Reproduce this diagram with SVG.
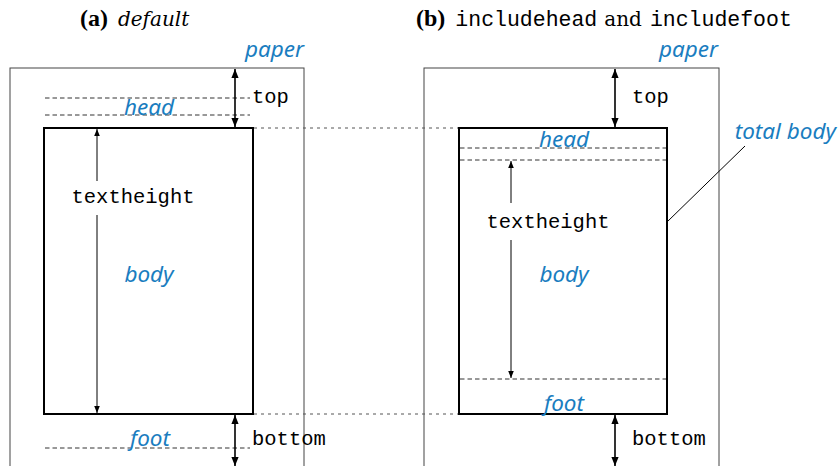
<svg xmlns="http://www.w3.org/2000/svg" width="839" height="466" viewBox="0 0 839 466">
<style>
.paper{fill:none;stroke:#444;stroke-width:1}
.body{fill:none;stroke:#000;stroke-width:2}
.dash{stroke:#333;stroke-width:1;stroke-dasharray:4.5 3;fill:none}
.dot{stroke:#555;stroke-width:1;stroke-dasharray:3 4;fill:none}
.arr{stroke:#000;stroke-width:1.6;fill:none}
.arr1{stroke:#000;stroke-width:1;fill:none}
.lbl{font-family:"Noto Sans","DejaVu Sans",sans-serif;font-style:italic;font-size:22.5px;fill:#1a7dc0}
.mono{font-family:"Liberation Mono","Courier New",monospace;font-size:20.5px;fill:#000}
.ser{font-family:"Liberation Serif","Times New Roman",serif;font-size:24px;fill:#000}
.tser{font-family:"DejaVu Serif",serif}
.tmono{font-family:"Liberation Mono","Courier New",monospace;font-size:21.5px}
</style>
<defs>
<marker id="ah" viewBox="0 0 10 10" refX="10" refY="5" markerWidth="7" markerHeight="7" markerUnits="userSpaceOnUse" orient="auto-start-reverse">
<path d="M0,1 L10,5 L0,9 z" fill="#000"/>
</marker>
<marker id="ah2" viewBox="0 0 10 10" refX="10" refY="5" markerWidth="9" markerHeight="9" markerUnits="userSpaceOnUse" orient="auto-start-reverse">
<path d="M0,1 L10,5 L0,9 z" fill="#000"/>
</marker>
</defs>
<g id="titles">
<text class="ser" x="80" y="26"><tspan font-weight="bold">(a)</tspan><tspan class="tser" dx="10" font-style="italic" font-size="20">default</tspan></text>
<text class="ser" x="416" y="26"><tspan font-weight="bold">(b)</tspan><tspan dx="10" class="tmono">includehead</tspan><tspan class="tser" dx="7" font-size="20">and</tspan><tspan dx="8" class="tmono">includefoot</tspan></text>
</g>
<g id="paper-a">
<rect class="paper" x="10" y="68" width="294" height="410"/>
<text class="lbl" x="304" y="57" text-anchor="end">paper</text>
</g>
<g id="head-a">
<line class="dash" x1="45" y1="98" x2="250" y2="98"/>
<line class="dash" x1="45" y1="115" x2="250" y2="115"/>
<text class="lbl" x="149" y="115" text-anchor="middle">head</text>
</g>
<g id="body-a">
<rect class="body" x="44" y="128" width="209" height="286"/>
<text class="lbl" x="149" y="282" text-anchor="middle">body</text>
<text class="mono" x="133" y="203" text-anchor="middle">textheight</text>
</g>
<g id="foot-a">
<line class="dash" x1="45" y1="448" x2="250" y2="448"/>
<text class="lbl" x="150" y="446" text-anchor="middle">foot</text>
</g>
<g id="paper-b">
<rect class="paper" x="424" y="68" width="295" height="410"/>
<text class="lbl" x="718" y="57" text-anchor="end">paper</text>
</g>
<g id="totalbody-b">
<rect class="body" x="459" y="128" width="208" height="286"/>
<line class="dash" x1="460" y1="148" x2="666" y2="148"/>
<line class="dash" x1="460" y1="160" x2="666" y2="160"/>
<line class="dash" x1="460" y1="379" x2="666" y2="379"/>
<text class="lbl" x="564" y="147" text-anchor="middle">head</text>
<text class="lbl" x="564" y="282" text-anchor="middle">body</text>
<text class="lbl" x="564" y="411" text-anchor="middle">foot</text>
<text class="mono" x="548" y="228" text-anchor="middle">textheight</text>
<text class="lbl" x="836" y="139" text-anchor="end">total body</text>
</g>
<g id="labels">
<text class="mono" x="252" y="103">top</text>
<text class="mono" x="252" y="445">bottom</text>
<text class="mono" x="632" y="103">top</text>
<text class="mono" x="632" y="445">bottom</text>
</g>
<g id="connectors">
<line class="dot" x1="254" y1="128" x2="458" y2="128"/>
<line class="dot" x1="254" y1="414" x2="458" y2="414"/>
<line class="arr" x1="235" y1="69" x2="235" y2="127" marker-start="url(#ah2)" marker-end="url(#ah2)"/>
<line class="arr" x1="235" y1="415" x2="235" y2="466" marker-start="url(#ah2)" marker-end="url(#ah2)"/>
<line class="arr" x1="615" y1="69" x2="615" y2="127" marker-start="url(#ah2)" marker-end="url(#ah2)"/>
<line class="arr" x1="615" y1="415" x2="615" y2="466" marker-start="url(#ah2)" marker-end="url(#ah2)"/>
<line class="arr1" x1="97" y1="181" x2="97" y2="129" marker-end="url(#ah)"/>
<line class="arr1" x1="97" y1="215" x2="97" y2="413" marker-end="url(#ah)"/>
<line class="arr1" x1="511" y1="203" x2="511" y2="161" marker-end="url(#ah)"/>
<line class="arr1" x1="511" y1="240" x2="511" y2="378" marker-end="url(#ah)"/>
<line class="arr1" x1="745" y1="146" x2="667" y2="222"/>
</g>
</svg>
